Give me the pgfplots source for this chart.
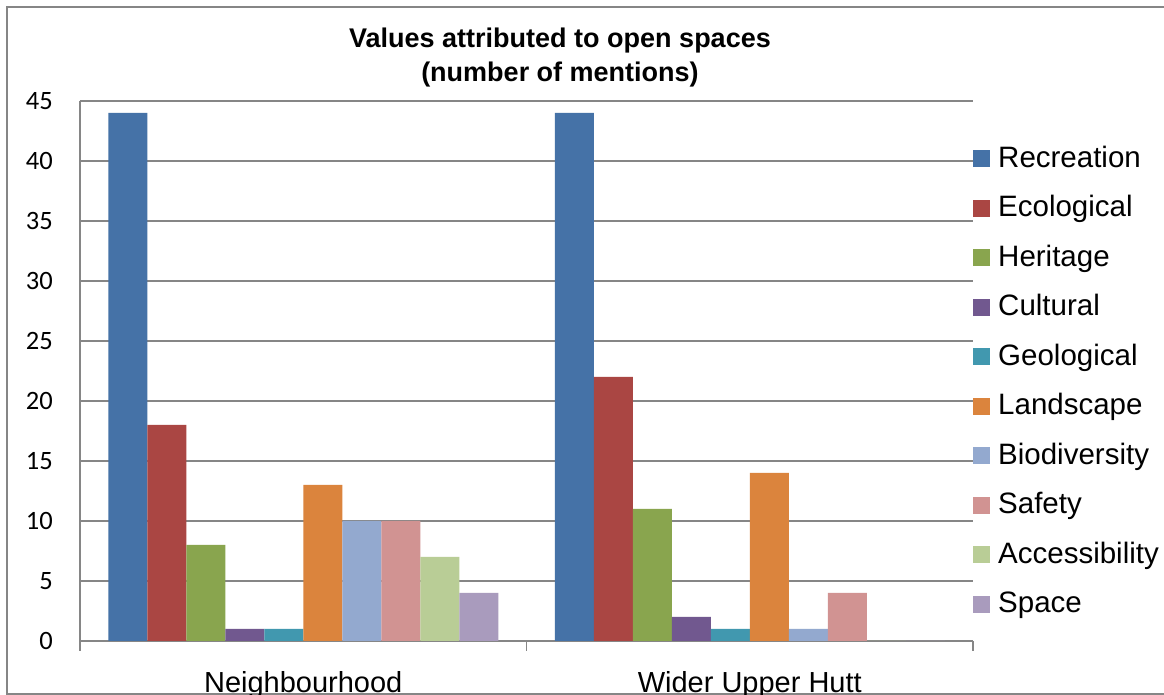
\documentclass[border=0pt]{standalone}
\usepackage{fontspec}
\setmainfont{Liberation Sans}
\newfontfamily\tickfont{Carlito}
\usepackage{pgfplots}
\pgfplotsset{compat=1.18}
\definecolor{gridc}{HTML}{868686}
\definecolor{cRec}{HTML}{4572A7}
\definecolor{cEco}{HTML}{AA4643}
\definecolor{cHer}{HTML}{89A54E}
\definecolor{cCul}{HTML}{71588F}
\definecolor{cGeo}{HTML}{4198AF}
\definecolor{cLan}{HTML}{DB843D}
\definecolor{cBio}{HTML}{93A9CF}
\definecolor{cSaf}{HTML}{D19392}
\definecolor{cAcc}{HTML}{B9CD96}
\definecolor{cSpa}{HTML}{A99BBD}
\begin{document}
\begin{tikzpicture}[x=1pt,y=1pt]
\useasboundingbox (0,0) rectangle (1164,695);
\fill[white] (0,0) rectangle (1164,695);
\draw[gridc, line width=1.3pt] (7,1) rectangle (1250,688);
\begin{axis}[
  at={(80pt,54pt)}, anchor=south west,
  scale only axis, width=893pt, height=540pt,
  ybar=0pt, bar width=39pt,
  xmin=-0.5, xmax=1.5, ymin=0, ymax=45,
  xtick={0,1}, xticklabels={Neighbourhood, Wider Upper Hutt},
  minor xtick={-0.5,0.5,1.5},
  ytick={0,5,...,45},
  axis x line*=bottom, axis y line*=left,
  axis line style={gridc, line width=1.3pt, -},
  ymajorgrids, grid style={gridc, line width=1.3pt},
  major tick length=0pt, minor tick length=10pt, tick align=outside,
  minor x tick style={gridc, line width=1.3pt},
  /pgf/number format/assume math mode=true,
  xticklabel style={font=\fontsize{29}{30}\selectfont, anchor=base, inner sep=0pt, yshift=-51.5pt},
  yticklabel style={font=\tickfont\fontsize{26.5}{26.5}\selectfont, anchor=east, inner sep=0pt, xshift=-27pt},
  title={Values attributed to open spaces\\(number of mentions)},
  title style={font=\bfseries\fontsize{27}{34}\selectfont, align=center, anchor=north, inner sep=0pt, at={(0.5375,1)}, yshift=67pt},
  legend style={at={(1,0.9167)}, anchor=north west, draw=none, fill=none, inner sep=0pt, row sep=21.5pt,
    nodes={inner sep=0pt, text height=21pt, text depth=7pt, font=\fontsize{29.5}{30}\selectfont},
    /tikz/every odd column/.append style={column sep=8pt}},
  legend cell align=left,
  legend image code/.code={\fill[#1] (0pt,-7pt) rectangle (17pt,10pt);},
]
\addplot[fill=cRec, draw=none] coordinates {(0,44) (1,44)};
\addplot[fill=cEco, draw=none] coordinates {(0,18) (1,22)};
\addplot[fill=cHer, draw=none] coordinates {(0,8) (1,11)};
\addplot[fill=cCul, draw=none] coordinates {(0,1) (1,2)};
\addplot[fill=cGeo, draw=none] coordinates {(0,1) (1,1)};
\addplot[fill=cLan, draw=none] coordinates {(0,13) (1,14)};
\addplot[fill=cBio, draw=none] coordinates {(0,10) (1,1)};
\addplot[fill=cSaf, draw=none] coordinates {(0,10) (1,4)};
\addplot[fill=cAcc, draw=none] coordinates {(0,7) (1,0)};
\addplot[fill=cSpa, draw=none] coordinates {(0,4) (1,0)};
\legend{Recreation, Ecological, Heritage, Cultural, Geological, Landscape, Biodiversity, Safety, Accessibility, Space}
\end{axis}
\end{tikzpicture}
\end{document}
